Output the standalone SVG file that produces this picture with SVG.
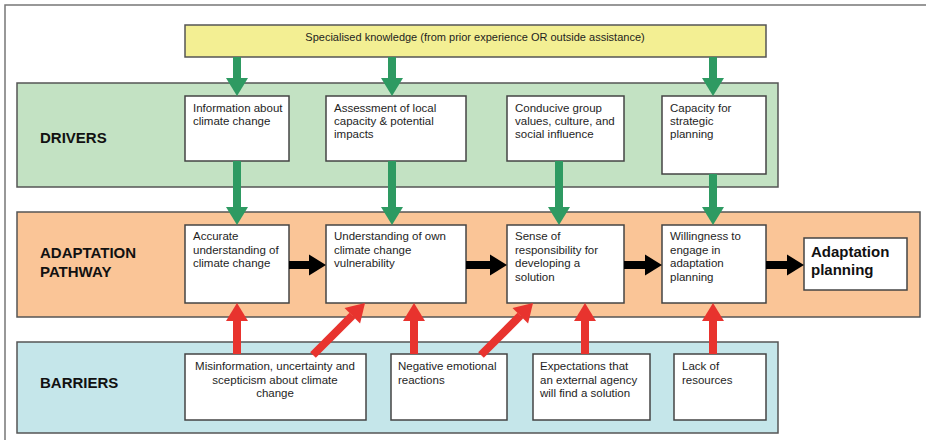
<svg xmlns="http://www.w3.org/2000/svg" width="926" height="440" viewBox="0 0 926 440">
<style>
.band{stroke:#555;stroke-width:1.5}
.box{fill:#fff;stroke:#444;stroke-width:1.5}
.t{font-family:"Liberation Sans",Arial,sans-serif;font-size:11.5px;fill:#1e1e1e}
.lbl{font-family:"Liberation Sans",Arial,sans-serif;font-size:15px;font-weight:bold;fill:#111}
.g{stroke:#2e9a62;stroke-width:8;fill:none;marker-end:url(#hg)}
.r{stroke:#e8332e;stroke-width:8;fill:none;marker-end:url(#hr)}
.k{stroke:#000;stroke-width:8;fill:none;marker-end:url(#hk)}
</style>
<defs>
<marker id="hg" markerUnits="userSpaceOnUse" markerWidth="20" markerHeight="22" refX="0" refY="11" orient="auto" overflow="visible"><path d="M0,0 L18,11 L0,22 z" fill="#2e9a62"/></marker>
<marker id="hr" markerUnits="userSpaceOnUse" markerWidth="20" markerHeight="22" refX="0" refY="11" orient="auto" overflow="visible"><path d="M0,0 L18,11 L0,22 z" fill="#e8332e"/></marker>
<marker id="hk" markerUnits="userSpaceOnUse" markerWidth="20" markerHeight="22" refX="0" refY="10.5" orient="auto" overflow="visible"><path d="M0,0 L17,10.5 L0,21 z" fill="#000"/></marker>
</defs>
<rect width="926" height="440" fill="#fff"/>
<path d="M5,440 V5 H926" fill="none" stroke="#777" stroke-width="1.5"/>

<g id="bands">
<rect class="band" x="17" y="83" width="761" height="104" fill="#c3e2c3"/>
<rect class="band" x="17" y="212" width="903" height="105" fill="#fac597"/>
<rect class="band" x="17" y="342" width="761" height="91" fill="#c5e6ea"/>
<text class="lbl" x="40" y="143">DRIVERS</text>
<text class="lbl" x="40" y="258">ADAPTATION</text>
<text class="lbl" x="40" y="277">PATHWAY</text>
<text class="lbl" x="40" y="388">BARRIERS</text>
</g>

<g id="knowledge">
<rect x="185" y="25" width="581" height="32" fill="#f3ef93" stroke="#555" stroke-width="1.5"/>
<text class="t" x="475" y="41" text-anchor="middle" style="font-size:11px">Specialised knowledge (from prior experience OR outside assistance)</text>
</g>

<g id="d1"><rect class="box" x="185" y="96" width="104" height="65"/>
<text class="t" x="193" y="112">Information about</text><text class="t" x="193" y="125">climate change</text></g>
<g id="d2"><rect class="box" x="326" y="96" width="140" height="65"/>
<text class="t" x="334" y="112">Assessment of local</text><text class="t" x="334" y="125">capacity &amp; potential</text><text class="t" x="334" y="138">impacts</text></g>
<g id="d3"><rect class="box" x="507" y="96" width="117" height="65"/>
<text class="t" x="515" y="112">Conducive group</text><text class="t" x="515" y="125">values, culture, and</text><text class="t" x="515" y="138">social influence</text></g>
<g id="d4"><rect class="box" x="662" y="96" width="104" height="78"/>
<text class="t" x="670" y="112">Capacity for</text><text class="t" x="670" y="125">strategic</text><text class="t" x="670" y="138">planning</text></g>

<g id="p1"><rect class="box" x="185" y="225" width="104" height="78"/>
<text class="t" x="193" y="240">Accurate</text><text class="t" x="193" y="254">understanding of</text><text class="t" x="193" y="267">climate change</text></g>
<g id="p2"><rect class="box" x="326" y="225" width="140" height="78"/>
<text class="t" x="334" y="240">Understanding of own</text><text class="t" x="334" y="254">climate change</text><text class="t" x="334" y="267">vulnerability</text></g>
<g id="p3"><rect class="box" x="507" y="225" width="117" height="78"/>
<text class="t" x="515" y="240">Sense of</text><text class="t" x="515" y="254">responsibility for</text><text class="t" x="515" y="267">developing a</text><text class="t" x="515" y="281">solution</text></g>
<g id="p4"><rect class="box" x="662" y="225" width="104" height="78"/>
<text class="t" x="670" y="240">Willingness to</text><text class="t" x="670" y="254">engage in</text><text class="t" x="670" y="267">adaptation</text><text class="t" x="670" y="281">planning</text></g>
<g id="p5"><rect class="box" x="804" y="238" width="103" height="52"/>
<text class="lbl" x="811" y="257">Adaptation</text><text class="lbl" x="811" y="275">planning</text></g>

<g id="b1"><rect class="box" x="185" y="354" width="181" height="66"/>
<text class="t" x="275" y="370" text-anchor="middle">Misinformation, uncertainty and</text><text class="t" x="275" y="384" text-anchor="middle">scepticism about climate</text><text class="t" x="275" y="397" text-anchor="middle">change</text></g>
<g id="b2"><rect class="box" x="391" y="354" width="116" height="66"/>
<text class="t" x="398" y="370">Negative emotional</text><text class="t" x="398" y="384">reactions</text></g>
<g id="b3"><rect class="box" x="533" y="354" width="117" height="66"/>
<text class="t" x="540" y="370">Expectations that</text><text class="t" x="540" y="384">an external agency</text><text class="t" x="540" y="397">will find a solution</text></g>
<g id="b4"><rect class="box" x="674" y="354" width="92" height="66"/>
<text class="t" x="682" y="370">Lack of</text><text class="t" x="682" y="384">resources</text></g>

<g id="connectors">
<line class="g" x1="237" y1="57" x2="237" y2="78"/>
<line class="g" x1="392" y1="57" x2="392" y2="78"/>
<line class="g" x1="713" y1="57" x2="713" y2="78"/>
<line class="g" x1="237" y1="161" x2="237" y2="207"/>
<line class="g" x1="392" y1="161" x2="392" y2="207"/>
<line class="g" x1="559" y1="161" x2="559" y2="207"/>
<line class="g" x1="713" y1="174" x2="713" y2="207"/>
<line class="k" x1="289" y1="265" x2="309" y2="265"/>
<line class="k" x1="466" y1="265" x2="490" y2="265"/>
<line class="k" x1="624" y1="265" x2="645" y2="265"/>
<line class="k" x1="766" y1="265" x2="787" y2="265"/>
<line class="r" x1="237" y1="354" x2="237" y2="321"/>
<line class="r" x1="313" y1="355" x2="352.3" y2="315.7"/>
<line class="r" x1="414" y1="354" x2="414" y2="321"/>
<line class="r" x1="481" y1="355" x2="520.3" y2="315.7"/>
<line class="r" x1="585" y1="354" x2="585" y2="321"/>
<line class="r" x1="713" y1="354" x2="713" y2="321"/>
</g>
</svg>
